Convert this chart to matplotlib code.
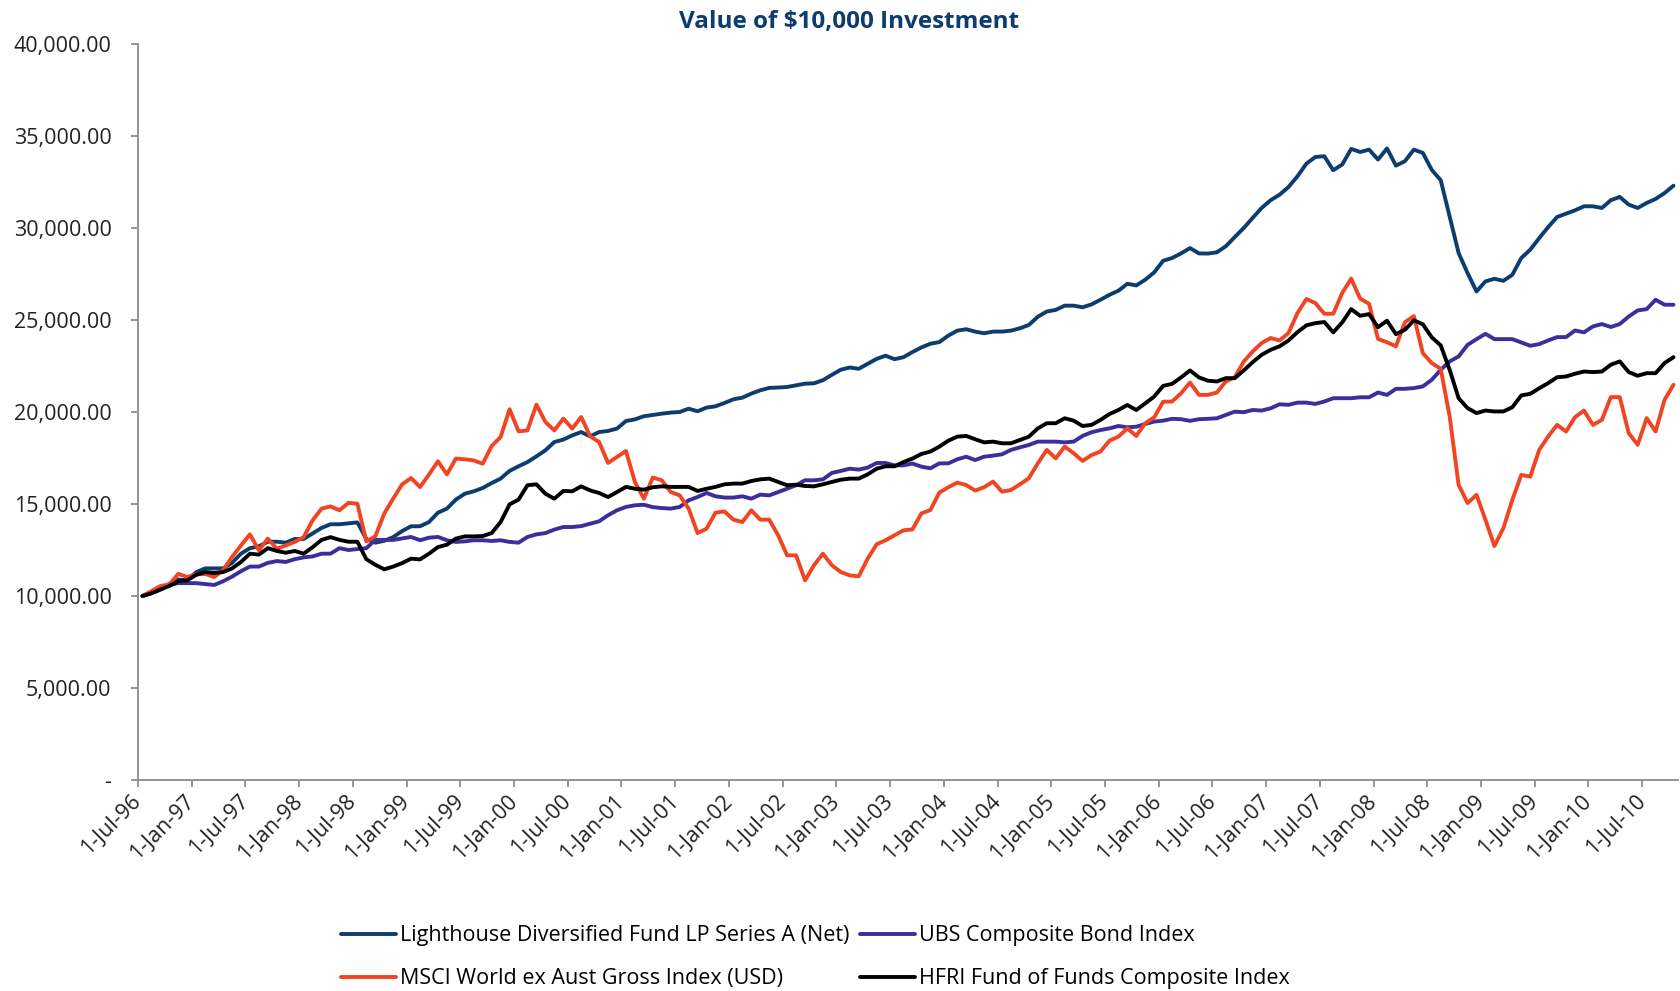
import matplotlib
matplotlib.use('Agg')
import matplotlib.pyplot as plt
from matplotlib.ticker import FuncFormatter, FixedLocator

plt.rcParams['font.family'] = ['Open Sans', 'DejaVu Sans']

# monthly values, Jul-96 .. Oct-10
lighthouse = [
    10000, 10200, 10450, 10650, 10900, 10850, 11300, 11500, 11500, 11500,
    11800, 12300, 12600, 12700, 12950, 12950, 12900, 13100, 13100, 13400,
    13700, 13900, 13900, 13950, 14000, 13100, 12900, 13000, 13200, 13530,
    13790, 13790, 14020, 14530, 14750, 15240, 15560, 15690, 15870, 16140,
    16380, 16800, 17050, 17280, 17590, 17920, 18370, 18500, 18730, 18910,
    18680, 18910, 18970, 19100, 19510, 19600, 19770, 19840, 19910, 19970,
    20000, 20180, 20040, 20240, 20310, 20490, 20690, 20780, 21000, 21180,
    21310, 21330, 21360, 21450, 21540, 21560, 21730, 22020, 22300, 22420,
    22350, 22620, 22890, 23060, 22870, 22980, 23260, 23510, 23710, 23800,
    24150, 24420, 24500, 24370, 24280, 24370, 24370, 24420, 24550, 24730,
    25180, 25460, 25550, 25780, 25780, 25690, 25850, 26100, 26370, 26590,
    26970, 26880, 27190, 27590, 28220, 28370, 28620, 28910, 28620, 28610,
    28680, 29010, 29510, 30000, 30550, 31090, 31510, 31810, 32230, 32810,
    33500, 33860, 33900, 33140, 33450, 34300, 34130, 34260, 33720, 34320,
    33390, 33630, 34260, 34080, 33160, 32600, 30630, 28640, 27550, 26550,
    27100, 27240, 27130, 27460, 28370, 28820, 29450, 30050, 30600, 30780,
    30960, 31180, 31180, 31090, 31510, 31690, 31270, 31090, 31360, 31580,
    31900, 32300,
]

ubs = [
    10000, 10150, 10350, 10600, 10700, 10700, 10700, 10650, 10600, 10800,
    11050, 11350, 11600, 11600, 11800, 11900, 11850, 12000, 12100, 12150,
    12300, 12300, 12600, 12500, 12550, 12600, 13050, 13050, 13050, 13130,
    13210, 13030, 13170, 13210, 13030, 12940, 12970, 13030, 13030, 12990,
    13030, 12940, 12900, 13210, 13350, 13420, 13610, 13750, 13750, 13800,
    13930, 14060, 14390, 14660, 14840, 14930, 14960, 14830, 14780, 14750,
    14840, 15200, 15380, 15600, 15420, 15350, 15350, 15420, 15290, 15510,
    15470, 15650, 15830, 16020, 16290, 16290, 16340, 16690, 16800, 16920,
    16870, 16980, 17230, 17230, 17100, 17100, 17200, 17030, 16940, 17210,
    17210, 17430, 17570, 17390, 17570, 17630, 17700, 17940, 18080, 18210,
    18390, 18390, 18390, 18350, 18390, 18700, 18900, 19020, 19110, 19240,
    19170, 19200, 19350, 19480, 19530, 19630, 19610, 19520, 19610, 19630,
    19660, 19840, 20020, 19990, 20110, 20080, 20200, 20420, 20390, 20510,
    20510, 20440, 20570, 20750, 20750, 20750, 20800, 20800, 21060, 20930,
    21260, 21260, 21300, 21390, 21750, 22290, 22750, 23020, 23650, 23960,
    24250, 23960, 23960, 23960, 23780, 23600, 23690, 23890, 24070, 24070,
    24430, 24330, 24650, 24780, 24620, 24780, 25190, 25520, 25590, 26100,
    25830, 25830,
]

msci = [
    10000, 10270, 10540, 10630, 11210, 11030, 11180, 11200, 11030, 11400,
    12120, 12750, 13350, 12480, 13120, 12570, 12750, 12940, 13200, 14110,
    14750, 14870, 14660, 15060, 15020, 12970, 13240, 14480, 15290, 16070,
    16410, 15920, 16600, 17320, 16610, 17470, 17430, 17370, 17190, 18150,
    18640, 20150, 18950, 19000, 20400, 19460, 19000, 19640, 19100, 19730,
    18680, 18370, 17230, 17560, 17880, 16200, 15290, 16440, 16290, 15650,
    15470, 14750, 13420, 13660, 14530, 14600, 14150, 14020, 14660, 14150,
    14150, 13300, 12210, 12210, 10850, 11670, 12300, 11670, 11300, 11120,
    11070, 12030, 12810, 13030, 13300, 13570, 13620, 14490, 14670, 15620,
    15910, 16160, 16030, 15730, 15910, 16220, 15670, 15760, 16070, 16400,
    17210, 17940, 17480, 18120, 17760, 17340, 17660, 17850, 18440, 18660,
    19110, 18700, 19390, 19710, 20560, 20570, 21020, 21600, 20930, 20930,
    21060, 21660, 21890, 22740, 23290, 23750, 24020, 23890, 24290, 25380,
    26140, 25920, 25340, 25340, 26470, 27250, 26160, 25880, 23970, 23790,
    23570, 24880, 25210, 23200, 22660, 22350, 19760, 16040, 15050, 15500,
    14140, 12720, 13690, 15230, 16580, 16490, 17940, 18670, 19300, 18940,
    19720, 20080, 19300, 19570, 20810, 20810, 18850, 18220, 19670, 18940,
    20660, 21480,
]

hfri = [
    10000, 10150, 10350, 10550, 10800, 10850, 11150, 11300, 11250, 11300,
    11500, 11850, 12300, 12250, 12600, 12450, 12350, 12450, 12300, 12650,
    13050, 13200, 13050, 12950, 12950, 12000, 11700, 11450, 11600, 11790,
    12030, 11990, 12300, 12660, 12790, 13120, 13240, 13240, 13260, 13420,
    14020, 14980, 15240, 16020, 16070, 15560, 15290, 15710, 15690, 15960,
    15740, 15600, 15380, 15650, 15930, 15830, 15780, 15910, 15960, 15930,
    15930, 15930, 15710, 15830, 15930, 16070, 16110, 16110, 16250, 16340,
    16380, 16200, 16020, 16050, 15980, 15960, 16070, 16200, 16320, 16380,
    16380, 16610, 16920, 17050, 17050, 17280, 17470, 17720, 17850, 18120,
    18440, 18660, 18700, 18520, 18350, 18390, 18300, 18300, 18480, 18660,
    19110, 19390, 19390, 19660, 19530, 19240, 19300, 19570, 19890, 20110,
    20380, 20110, 20470, 20840, 21420, 21530, 21880, 22260, 21880, 21700,
    21660, 21840, 21840, 22260, 22710, 23110, 23380, 23570, 23890, 24340,
    24710, 24830, 24890, 24330, 24870, 25590, 25230, 25320, 24610, 24960,
    24230, 24470, 24980, 24770, 24060, 23620, 22290, 20750, 20210, 19940,
    20080, 20030, 20030, 20260, 20900, 20990, 21290, 21570, 21890, 21930,
    22080, 22200, 22170, 22200, 22570, 22750, 22170, 21970, 22110, 22110,
    22660, 22980,
]

tick_labels = [
    '1-Jul-96', '1-Jan-97', '1-Jul-97', '1-Jan-98', '1-Jul-98', '1-Jan-99',
    '1-Jul-99', '1-Jan-00', '1-Jul-00', '1-Jan-01', '1-Jul-01', '1-Jan-02',
    '1-Jul-02', '1-Jan-03', '1-Jul-03', '1-Jan-04', '1-Jul-04', '1-Jan-05',
    '1-Jul-05', '1-Jan-06', '1-Jul-06', '1-Jan-07', '1-Jul-07', '1-Jan-08',
    '1-Jul-08', '1-Jan-09', '1-Jul-09', '1-Jan-10', '1-Jul-10',
]

names = ['Lighthouse Diversified Fund LP Series A (Net)',
         'UBS Composite Bond Index',
         'MSCI World ex Aust Gross Index (USD)',
         'HFRI Fund of Funds Composite Index']
colors = ['#0d3c6e', '#3a2f9b', '#f04423', '#000000']

n = len(lighthouse)
x = [i + 0.5 for i in range(n)]   # category axis, points between tick marks

fig = plt.figure(figsize=(16.81, 9.91), dpi=100)
ax = fig.add_axes([0.0821, 0.2129, 0.9161, 0.7427])

lines = {}
for name, vals, c in zip(names, [lighthouse, ubs, msci, hfri], colors):
    lines[name], = ax.plot(x, vals, color=c, lw=2.8, solid_joinstyle='round',
                           solid_capstyle='round', label=name)

ax.set_xlim(0, n)
ax.set_ylim(0, 40000)
ax.set_yticks(range(0, 40001, 5000))
ax.yaxis.set_major_formatter(
    FuncFormatter(lambda v, p: '-' if v == 0 else '{:,.2f}'.format(v)))
ax.xaxis.set_major_locator(FixedLocator(range(0, 6 * len(tick_labels), 6)))
ax.set_xticklabels(tick_labels, rotation=45, ha='right', va='center',
                   rotation_mode='anchor')

for s in ['top', 'right']:
    ax.spines[s].set_visible(False)
for s in ['left', 'bottom']:
    ax.spines[s].set_color('#8c8c8c')
    ax.spines[s].set_linewidth(1.3)
ax.tick_params(axis='both', color='#8c8c8c', width=1.3, length=5,
               labelsize=15.5, labelcolor='#222222')
ax.tick_params(axis='y', pad=14)
ax.tick_params(axis='x', pad=8)

fig.text(0.505, 0.978, 'Value of $10,000 Investment', ha='center', va='center',
         fontsize=17.5, fontweight='bold', color='#0d3c6e')

order = [names[0], names[2], names[1], names[3]]
fig.legend([lines[k] for k in order], order, loc='center',
           bbox_to_anchor=(0.485, 0.034), ncol=2, frameon=False,
           fontsize=15.5, handlelength=2.55, handletextpad=0.2,
           columnspacing=0.5, labelspacing=1.03)

fig.savefig('out.png', dpi=100)
